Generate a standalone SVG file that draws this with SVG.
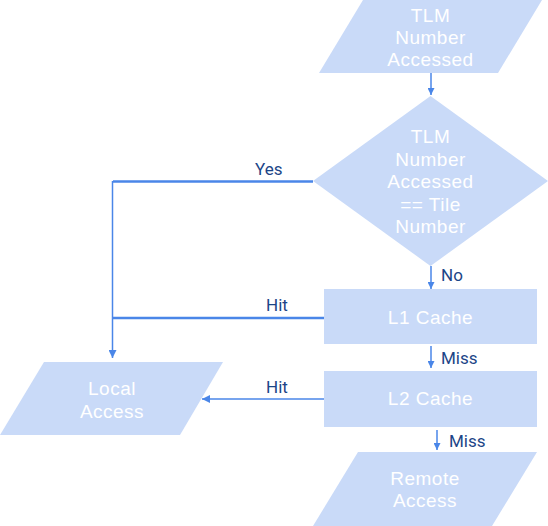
<svg xmlns="http://www.w3.org/2000/svg" width="548" height="526" viewBox="0 0 548 526">
  <defs>
    <style>
      .node { fill: #c9daf8; stroke: none; }
      .nt { font-family: "Liberation Sans", Arial, sans-serif; font-size: 19px; letter-spacing: 0.5px; fill: #ffffff; text-anchor: middle; }
      .lbl { font-family: Roboto, "Liberation Sans", sans-serif; font-size: 17px; fill: #1c4587; }
      .edge { fill: none; stroke: #4a86e8; stroke-width: 1.5; }
      .thick { stroke-width: 2.5; }
    </style>
    <marker id="arrow" viewBox="0 0 10 10" refX="10" refY="5" markerWidth="7" markerHeight="7" markerUnits="userSpaceOnUse" orient="auto">
      <path d="M0,0 L10,5 L0,10 z" fill="#4a86e8"/>
    </marker>
    <marker id="arrowS" viewBox="0 0 10 10" refX="10" refY="5" markerWidth="8" markerHeight="8" markerUnits="userSpaceOnUse" orient="auto">
      <path d="M0,0 L10,5 L0,10 z" fill="#4a86e8"/>
    </marker>
  </defs>

  <g id="connectors">
    <line class="edge" x1="431" y1="73" x2="431" y2="95" marker-end="url(#arrow)"/>
    <polyline class="edge thick" points="313,181.5 113,181.5"/>
    <line class="edge" x1="112.5" y1="181" x2="112.5" y2="358" marker-end="url(#arrowS)"/>
    <line class="edge" x1="431" y1="266" x2="431" y2="289" marker-end="url(#arrow)"/>
    <line class="edge thick" x1="324" y1="318" x2="112" y2="318"/>
    <line class="edge" x1="431" y1="346" x2="431" y2="368" marker-end="url(#arrow)"/>
    <line class="edge" x1="324" y1="399" x2="202" y2="399" marker-end="url(#arrowS)"/>
    <line class="edge" x1="437" y1="430" x2="437" y2="450" marker-end="url(#arrow)"/>
    <text class="lbl" x="255" y="175">Yes</text>
    <text class="lbl" x="441" y="281">No</text>
    <text class="lbl" x="266" y="311">Hit</text>
    <text class="lbl" x="441" y="364">Miss</text>
    <text class="lbl" x="266" y="393">Hit</text>
    <text class="lbl" x="449" y="447">Miss</text>
  </g>

  <g id="tlm-accessed">
    <polygon class="node" points="363,0 542,0 498,73 319,73"/>
    <text class="nt" x="430.5" y="22">TLM</text>
    <text class="nt" x="430.5" y="44">Number</text>
    <text class="nt" x="430.5" y="66">Accessed</text>
  </g>

  <g id="decision">
    <polygon class="node" points="430.5,96 548,181 430.5,266 313,181"/>
    <text class="nt" x="430.5" y="143">TLM</text>
    <text class="nt" x="430.5" y="165.5">Number</text>
    <text class="nt" x="430.5" y="188">Accessed</text>
    <text class="nt" x="430.5" y="210.5">== Tile</text>
    <text class="nt" x="430.5" y="233">Number</text>
  </g>

  <g id="l1-cache">
    <rect class="node" x="324" y="289" width="213" height="55"/>
    <text class="nt" x="430.5" y="324">L1 Cache</text>
  </g>

  <g id="l2-cache">
    <rect class="node" x="324" y="371" width="213" height="56"/>
    <text class="nt" x="430.5" y="405">L2 Cache</text>
  </g>

  <g id="local-access">
    <polygon class="node" points="44,362 223,362 180,435 0,435"/>
    <text class="nt" x="112" y="395">Local</text>
    <text class="nt" x="112" y="418">Access</text>
  </g>

  <g id="remote-access">
    <polygon class="node" points="358,452 537,452 492,526 313,526"/>
    <text class="nt" x="425" y="485">Remote</text>
    <text class="nt" x="425" y="507">Access</text>
  </g>
</svg>
